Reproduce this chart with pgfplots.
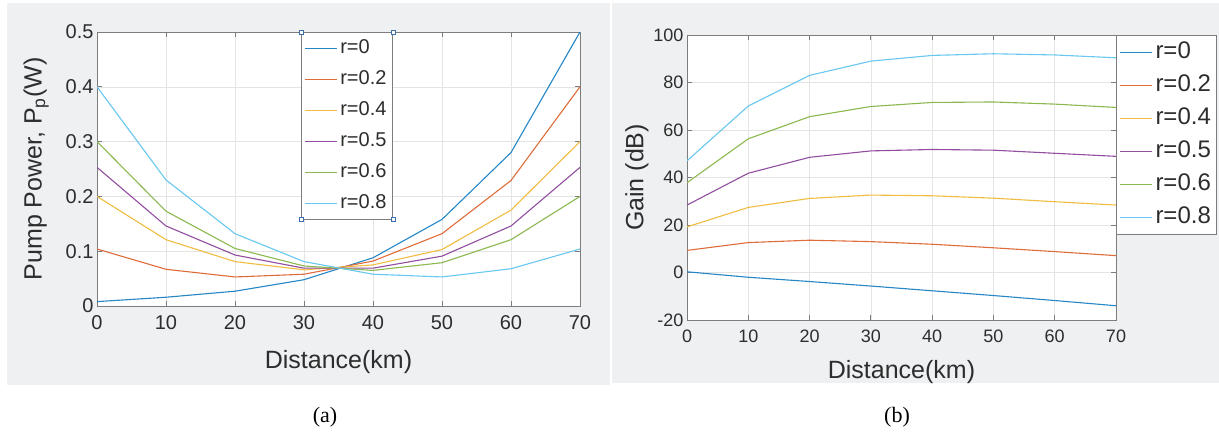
\documentclass[border=0pt]{standalone}
\usepackage{fontspec}
\setmainfont{Liberation Sans}
\newfontfamily\seriffont{Liberation Serif}
\usepackage{pgfplots}
\pgfplotsset{compat=1.18}

\definecolor{m1}{RGB}{0,114,189}
\definecolor{m2}{RGB}{217,83,25}
\definecolor{m3}{RGB}{237,177,32}
\definecolor{m4}{RGB}{126,47,142}
\definecolor{m5}{RGB}{119,172,48}
\definecolor{m6}{RGB}{77,190,238}
\definecolor{bgc}{RGB}{238,240,242}
\definecolor{axc}{RGB}{125,125,125}
\definecolor{txt}{RGB}{45,45,45}
\definecolor{grd}{RGB}{228,228,228}
\definecolor{hdl}{RGB}{60,110,170}

\pgfplotsset{
  mstyle/.style={
    scale only axis,
    axis background/.style={fill=white},
    axis line style={axc, line width=0.8pt},
    grid=major,
    major grid style={grd, line width=0.6pt},
    tick style={axc, line width=0.8pt},
    tick align=inside,
    major tick length=5pt,
    xmin=0, xmax=70,
    xtick={0,10,...,70},
    ticklabel style={text=txt},
    xticklabel style={yshift=-6pt},
    /pgf/number format/assume math mode=true,
    every axis plot/.append style={line width=1.1pt},
    legend cell align=left,
    legend image code/.code={\draw[##1] (0pt,0pt) -- (32pt,0pt);},
  }
}

\begin{document}
\begin{tikzpicture}
\useasboundingbox (0,0) rectangle (1219pt,432pt);
\fill[bgc] (7pt,47pt) rectangle (610pt,429pt);
\fill[bgc] (612pt,49pt) rectangle (1219pt,429pt);

% ---------------- (a) ----------------
\begin{axis}[mstyle,
  at={(97pt,126pt)}, anchor=south west,
  width=483pt, height=274pt,
  ymin=0, ymax=0.5, ytick={0,0.1,...,0.5},
  ticklabel style={font=\fontsize{20}{24}\selectfont},
  xlabel={Distance(km)},
  ylabel={Pump Power, P\textsubscript{p}(W)},
  every axis x label/.style={at={(axis description cs:0.5,0)}, anchor=north, yshift=-41pt, text=txt, font=\fontsize{25}{30}\selectfont},
  every axis y label/.style={at={(axis description cs:-0.126,0.5)}, rotate=90, anchor=center, text=txt, font=\fontsize{25}{30}\selectfont},
  legend style={at={(0.422,1)}, anchor=north west, fill=white, draw=axc,
    line width=0.8pt, inner sep=3pt, row sep=5.5pt,
    font=\fontsize{20}{24}\selectfont,
    nodes={inner sep=3pt, text height=15pt, text depth=4.5pt, text=txt},
    name=legA},
]
\addplot[m1!85!white] coordinates {(0,0.008) (10,0.016) (20,0.027) (30,0.048) (40,0.088) (50,0.158) (60,0.28) (70,0.5)};
\addplot[m2!85!white] coordinates {(0,0.104) (10,0.067) (20,0.053) (30,0.058) (40,0.082) (50,0.132) (60,0.229) (70,0.4)};
\addplot[m3!85!white] coordinates {(0,0.2) (10,0.121) (20,0.081) (30,0.066) (40,0.075) (50,0.103) (60,0.175) (70,0.3)};
\addplot[m4!85!white] coordinates {(0,0.253) (10,0.146) (20,0.093) (30,0.069) (40,0.069) (50,0.091) (60,0.146) (70,0.253)};
\addplot[m5!85!white] coordinates {(0,0.3) (10,0.173) (20,0.105) (30,0.073) (40,0.065) (50,0.079) (60,0.121) (70,0.2)};
\addplot[m6!85!white] coordinates {(0,0.4) (10,0.23) (20,0.132) (30,0.081) (40,0.058) (50,0.053) (60,0.068) (70,0.104)};
\legend{r=0, r=0.2, r=0.4, r=0.5, r=0.6, r=0.8}
\end{axis}
\foreach \c in {north west, north east, south west, south east}
  \draw[hdl, fill=white, line width=0.6pt] ([xshift=-2pt,yshift=-2pt]legA.\c) rectangle ([xshift=2pt,yshift=2pt]legA.\c);

% ---------------- (b) ----------------
\begin{axis}[mstyle,
  at={(687pt,112pt)}, anchor=south west,
  width=429pt, height=285pt,
  ymin=-20, ymax=100, ytick={-20,0,...,100},
  ticklabel style={font=\fontsize{18}{22}\selectfont},
  xlabel={Distance(km)},
  ylabel={Gain (dB)},
  every axis x label/.style={at={(axis description cs:0.5,0)}, anchor=north, yshift=-37pt, text=txt, font=\fontsize{25}{30}\selectfont},
  every axis y label/.style={at={(axis description cs:-0.117,0.5)}, rotate=90, anchor=center, text=txt, font=\fontsize{25}{30}\selectfont},
  legend style={at={(1,1)}, anchor=north west, fill=white, draw=axc,
    line width=0.8pt, inner sep=3pt, row sep=5pt,
    font=\fontsize{24}{28}\selectfont,
    nodes={inner sep=3pt, text height=17pt, text depth=5pt, text=txt}},
]
\addplot[m1!85!white] coordinates {(0,0.3) (10,-2) (20,-3.8) (30,-5.7) (40,-7.7) (50,-9.7) (60,-11.8) (70,-14)};
\addplot[m2!85!white] coordinates {(0,9.3) (10,12.6) (20,13.6) (30,13) (40,11.9) (50,10.4) (60,8.8) (70,7.1)};
\addplot[m3!85!white] coordinates {(0,19.2) (10,27.4) (20,31.2) (30,32.6) (40,32.3) (50,31.3) (60,29.8) (70,28.4)};
\addplot[m4!85!white] coordinates {(0,28.4) (10,41.8) (20,48.5) (30,51.2) (40,51.8) (50,51.5) (60,50.2) (70,48.9)};
\addplot[m5!85!white] coordinates {(0,37.8) (10,56.3) (20,65.6) (30,69.9) (40,71.6) (50,71.8) (60,70.9) (70,69.5)};
\addplot[m6!85!white] coordinates {(0,47) (10,70.1) (20,83) (30,89) (40,91.4) (50,92.1) (60,91.6) (70,90.4)};
\legend{r=0, r=0.2, r=0.4, r=0.5, r=0.6, r=0.8}
\end{axis}

\node[font=\seriffont\fontsize{22}{26}\selectfont] at (325pt,15pt) {(a)};
\node[font=\seriffont\fontsize{22}{26}\selectfont] at (897pt,15pt) {(b)};
\end{tikzpicture}
\end{document}
